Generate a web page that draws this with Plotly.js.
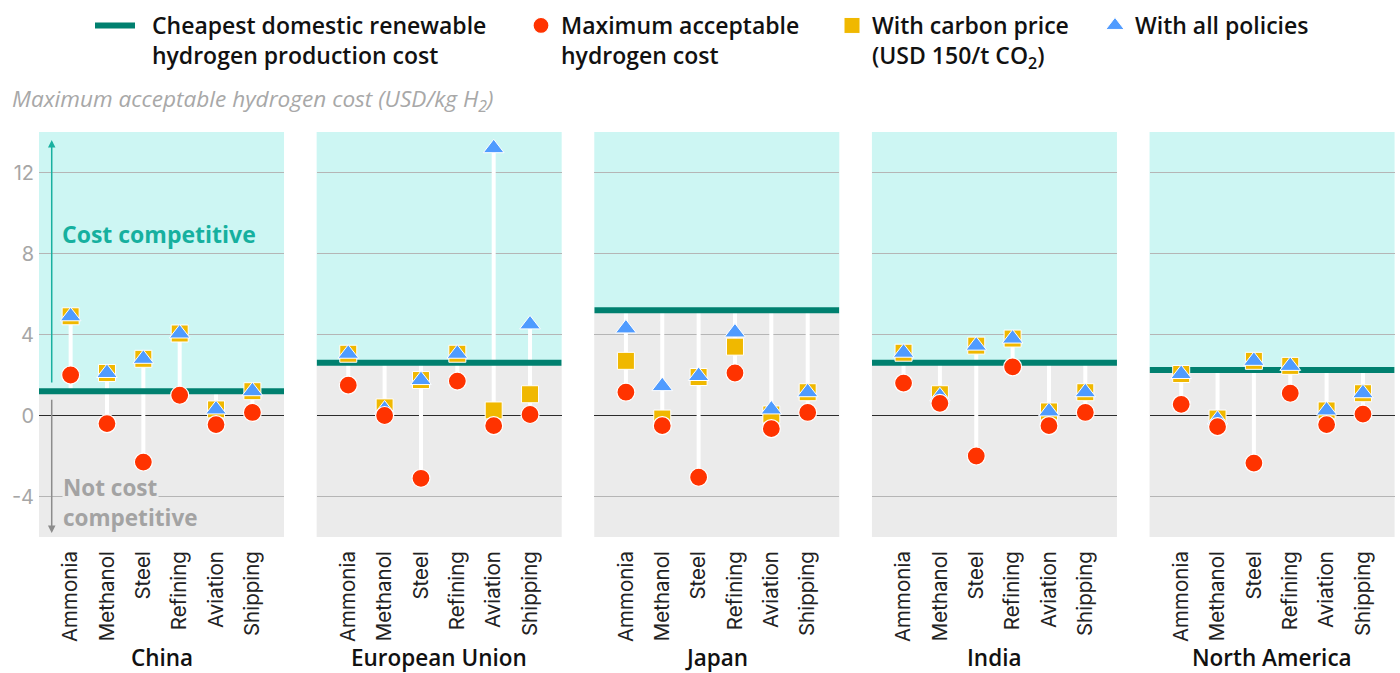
<!DOCTYPE html>
<html><head><meta charset="utf-8">
<script src="https://cdn.plot.ly/plotly-3.0.1.min.js"></script>
<style>html,body{margin:0;padding:0;background:#fff}#chart{width:1400px;height:673px}</style>
</head><body><div id="chart"></div>
<script>
const regions = ['China', 'European Union', 'Japan', 'India', 'North America'];
const sectors = ['Ammonia', 'Methanol', 'Steel', 'Refining', 'Aviation', 'Shipping'];
// Cheapest domestic renewable hydrogen production cost (USD/kg H2)
const cheapestCost = [1.2, 2.6, 5.2, 2.6, 2.25];
// Maximum acceptable hydrogen cost, per region (rows) and sector (cols)
const maxAcceptable = [
  [2.0, -0.4, -2.3, 1.0, -0.45, 0.15],
  [1.5, 0.0, -3.1, 1.7, -0.5, 0.05],
  [1.15, -0.5, -3.05, 2.1, -0.65, 0.15],
  [1.6, 0.6, -2.0, 2.4, -0.5, 0.15],
  [0.55, -0.55, -2.35, 1.1, -0.45, 0.07]
];
// With carbon price (USD 150/t CO2)
const withCarbonPrice = [
  [4.9, 2.1, 2.8, 4.05, 0.3, 1.2],
  [3.05, 0.4, 1.75, 3.05, 0.25, 1.05],
  [2.7, -0.15, 1.9, 3.4, 0.05, 1.15],
  [3.1, 1.05, 3.45, 3.8, 0.2, 1.15],
  [2.05, -0.15, 2.7, 2.45, 0.25, 1.1]
];
// With all policies
const withAllPolicies = [
  [4.9, 2.1, 2.8, 4.05, 0.3, 1.2],
  [3.05, 0.3, 1.75, 3.05, 13.2, 4.5],
  [4.3, 1.45, 1.95, 4.1, 0.3, 1.15],
  [3.1, 0.95, 3.45, 3.8, 0.2, 1.15],
  [2.05, -0.2, 2.7, 2.45, 0.25, 1.1]
];
const yTickVals = [-4, 0, 4, 8, 12];
const yTickText = ['-4', '0', '4', '8', '12'];

const yRange = [-6, 14];
const xRange = [-0.87, 5.87];
const panelW = 0.1807, panelGap = 0.02405;
const sectorIdx = sectors.map((_, j) => j);

const C_LINE = '#00806f', C_RED = '#ff3300', C_YEL = '#f0b800', C_BLUE = '#4f9bff';
const TXT = 'Open Sans';
const NB = '\u00a0\u00a0';

const traces = [];
const shapes = [];
const annotations = [];
const layout = {
  width: 1400, height: 673,
  margin: {l: 39, r: 5, t: 132, b: 136},
  paper_bgcolor: '#fff', plot_bgcolor: '#fff',
  showlegend: true,
  yaxis: {
    anchor: 'x', domain: [0, 1], range: yRange, fixedrange: true,
    tickmode: 'array', tickvals: yTickVals, ticktext: yTickText,
    tickfont: {family: 'Inter', size: 20, color: '#a6a6a6'},
    showgrid: true, gridcolor: '#b5b5b5', gridwidth: 1.5,
    zeroline: true, zerolinecolor: '#2b2b2b', zerolinewidth: 1.5,
    showline: false, ticks: '', ticklabelstandoff: 4
  }
};

regions.forEach((reg, i) => {
  const k = i === 0 ? '' : String(i + 1);
  const xa = 'x' + k;
  const x0 = i * (panelW + panelGap);
  layout['xaxis' + k] = {
    domain: [x0, Math.min(1, x0 + panelW)], anchor: 'y', range: xRange, fixedrange: true,
    tickmode: 'array', tickvals: sectorIdx, ticktext: sectors, tickangle: -90,
    tickfont: {family: 'Inter', size: 20.5, color: '#222'},
    showgrid: false, zeroline: false, showline: false, ticks: '', ticklabelstandoff: 9
  };
  const c = cheapestCost[i];
  shapes.push({type: 'rect', xref: xa + ' domain', x0: 0, x1: 1, yref: 'y', y0: c, y1: yRange[1],
    fillcolor: '#cdf6f3', line: {width: 0}, layer: 'below'});
  shapes.push({type: 'rect', xref: xa + ' domain', x0: 0, x1: 1, yref: 'y', y0: yRange[0], y1: c,
    fillcolor: '#ebebeb', line: {width: 0}, layer: 'below'});

  // stems
  const sx = [], sy = [];
  sectors.forEach((s, j) => {
    const vals = [maxAcceptable[i][j], withCarbonPrice[i][j], withAllPolicies[i][j], c];
    sx.push(j, j, null);
    sy.push(Math.min(...vals), Math.max(...vals), null);
  });
  traces.push({type: 'scatter', mode: 'lines', x: sx, y: sy, xaxis: xa, yaxis: 'y',
    line: {color: '#ffffff', width: 4}, hoverinfo: 'skip', showlegend: false});
  // cheapest line
  traces.push({type: 'scatter', mode: 'lines', x: [xRange[0], xRange[1]], y: [c, c], xaxis: xa, yaxis: 'y',
    line: {color: C_LINE, width: 6}, name: NB + 'Cheapest domestic renewable<br>' + NB + 'hydrogen production cost',
    legend: 'legend', showlegend: i === 0, hoverinfo: 'skip'});
  traces.push({type: 'scatter', mode: 'markers', x: sectorIdx, y: withCarbonPrice[i], xaxis: xa, yaxis: 'y',
    marker: {symbol: 'square', size: 17, color: C_YEL, line: {color: '#fff', width: 1}},
    name: 'With carbon price<br>(USD 150/t CO<sub>2</sub>)', legend: 'legend3', showlegend: i === 0, cliponaxis: false});
  traces.push({type: 'scatter', mode: 'markers', x: sectorIdx, y: withAllPolicies[i], xaxis: xa, yaxis: 'y',
    marker: {symbol: 'triangle-up', size: 18, color: C_BLUE, line: {color: '#fff', width: 1}},
    name: 'With all policies', legend: 'legend4', showlegend: i === 0, cliponaxis: false});
  traces.push({type: 'scatter', mode: 'markers', x: sectorIdx, y: maxAcceptable[i], xaxis: xa, yaxis: 'y',
    marker: {symbol: 'circle', size: 18, color: C_RED, line: {color: '#fff', width: 1.2}},
    name: 'Maximum acceptable<br>hydrogen cost', legend: 'legend2', showlegend: i === 0, cliponaxis: false});

  annotations.push({text: reg, xref: xa + ' domain', x: 0.5, yref: 'paper', y: 0, yshift: -120,
    xanchor: 'center', yanchor: 'middle', showarrow: false,
    font: {family: TXT, size: 22.5, color: '#111', weight: 600}});
});

// China-panel decorations
annotations.push({xref: 'x', yref: 'y', x: -0.52, y: 13.6, axref: 'x', ayref: 'y', ax: -0.52, ay: cheapestCost[0] + 0.35,
  text: '', showarrow: true, arrowhead: 2, arrowsize: 1, arrowwidth: 1.5, arrowcolor: '#19b0a0'});
annotations.push({xref: 'x', yref: 'y', x: -0.52, y: -5.8, axref: 'x', ayref: 'y', ax: -0.52, ay: cheapestCost[0] - 0.35,
  text: '', showarrow: true, arrowhead: 2, arrowsize: 1, arrowwidth: 1.5, arrowcolor: '#8c8c8c'});
annotations.push({xref: 'x', yref: 'y', x: -0.28, y: 8.95, xanchor: 'left', yanchor: 'middle', showarrow: false,
  text: 'Cost competitive', font: {family: 'Open Sans', size: 23, color: '#16b09f', weight: 700}});
annotations.push({xref: 'x', yref: 'y', x: -0.25, y: -3.55, xanchor: 'left', yanchor: 'middle', showarrow: false,
  text: 'Not cost', bgcolor: '#ebebeb', borderpad: 0, font: {family: 'Open Sans', size: 22.5, color: '#a3a3a3', weight: 700}});
annotations.push({xref: 'x', yref: 'y', x: -0.25, y: -5.03, xanchor: 'left', yanchor: 'middle', showarrow: false,
  text: 'competitive', borderpad: 0, font: {family: 'Open Sans', size: 22.5, color: '#a3a3a3', weight: 700}});
// axis title
annotations.push({xref: 'paper', yref: 'paper', x: 0, y: 1, xshift: -29, yshift: 32, xanchor: 'left', yanchor: 'middle',
  showarrow: false, text: 'Maximum acceptable hydrogen cost (USD/kg H<sub>2</sub>)',
  font: {family: TXT, size: 22.6, color: '#a8a8a8', style: 'italic'}});

const legBase = {orientation: 'h', xref: 'container', yref: 'container', xanchor: 'left', yanchor: 'top',
  y: 1 - 4 / 673, valign: 'top', bgcolor: 'rgba(0,0,0,0)', itemclick: false, itemdoubleclick: false,
  font: {family: TXT, size: 23, color: '#111', weight: 600}};
layout.legend = Object.assign({}, legBase, {x: 90 / 1400, itemwidth: 40});
layout.legend2 = Object.assign({}, legBase, {x: 521 / 1400});
layout.legend3 = Object.assign({}, legBase, {x: 832 / 1400});
layout.legend4 = Object.assign({}, legBase, {x: 1095 / 1400});

layout.shapes = shapes;
layout.annotations = annotations;

Plotly.newPlot('chart', traces, layout, {displayModeBar: false, staticPlot: true});
</script></body></html>
